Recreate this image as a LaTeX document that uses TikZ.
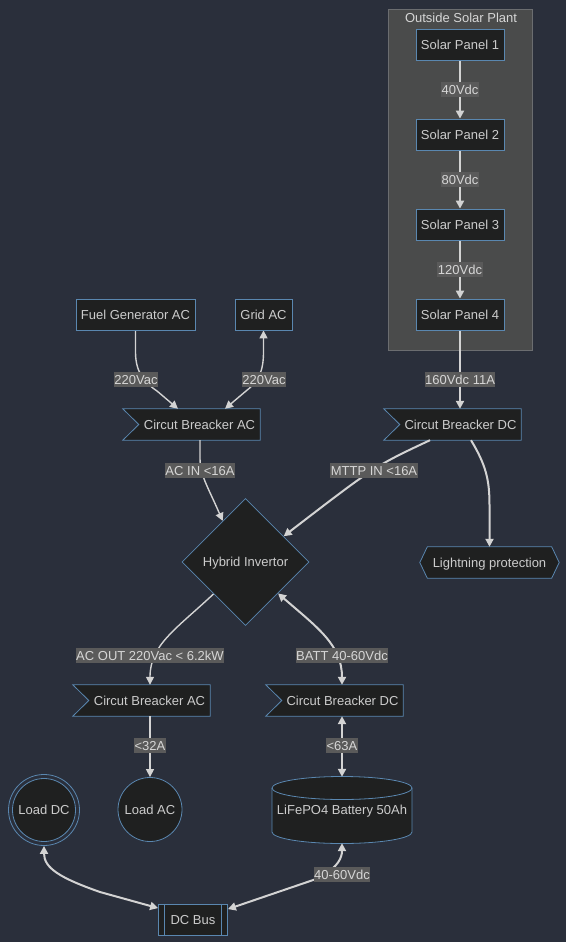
\documentclass[tikz,border=0pt]{standalone}
\usepackage{fontspec}
\setmainfont{Liberation Sans}
\usetikzlibrary{shapes.geometric,arrows.meta,calc}
\pgfdeclarelayer{back}
\pgfdeclarelayer{shapes}
\pgfdeclarelayer{edges}
\pgfsetlayers{back,shapes,edges,main}
\definecolor{bg}{HTML}{2A2F3B}
\definecolor{nfill}{HTML}{1F2020}
\definecolor{nstroke}{HTML}{5A87B0}
\definecolor{ntext}{HTML}{CCCCCC}
\definecolor{clus}{HTML}{4A4B4B}
\definecolor{clusline}{HTML}{6B6D70}
\definecolor{lblbg}{HTML}{5A5A5A}
\definecolor{lbltext}{HTML}{D6D6D6}
\definecolor{edgec}{HTML}{D3D3D3}
\tikzset{
  >={Triangle[length=8pt,width=8pt]},
  box/.style={draw=nstroke, fill=nfill, text=ntext, line width=0.8pt, minimum height=31pt, inner sep=0pt, text height=10pt, text depth=0.7pt},
  txt/.style={text=ntext, inner sep=0pt, minimum height=31pt, text height=10pt, text depth=0.7pt},
  shp/.style={draw=nstroke, fill=nfill, line width=0.8pt},
  lbl/.style={fill=lblbg, text=lbltext, inner xsep=0.5pt, inner ysep=1.2pt, text height=11pt, text depth=1.7pt},
  thk/.style={draw=edgec, line width=2pt},
  thn/.style={draw=edgec, line width=1.4pt},
}
\begin{document}
\begin{tikzpicture}[x=1pt,y=-1pt,font=\fontsize{13}{15}\selectfont]
\useasboundingbox (0,0) rectangle (566,942);
\begin{pgfonlayer}{back}
  \fill[bg] (0,0) rectangle (566,942);
  \filldraw[fill=clus, draw=clusline, line width=0.8pt] (388,9) rectangle (532,350);
\end{pgfonlayer}
\node[text=lbltext, inner sep=0pt, text height=10pt, text depth=0.7pt] (clustitle) at (461,18) {Outside Solar Plant};

% nodes
\node[box, minimum width=88pt] (sp1) at (460,44.5) {Solar Panel 1};
\node[box, minimum width=88pt] (sp2) at (460,134.5) {Solar Panel 2};
\node[box, minimum width=88pt] (sp3) at (460,224.5) {Solar Panel 3};
\node[box, minimum width=88pt] (sp4) at (460,314.5) {Solar Panel 4};
\node[box, minimum width=119pt] (fuel) at (135.5,314.5) {Fuel Generator AC};
\node[box, minimum width=57pt] (grid) at (263.5,314.5) {Grid AC};
\node[txt, minimum width=137pt] (cbac) at (191.5,424.5) {\hspace*{16pt}Circut Breacker AC};
\node[txt, minimum width=137pt] (cbdc) at (452.5,424.5) {\hspace*{16pt}Circut Breacker DC};
\node[box, diamond, minimum width=127pt, minimum height=127pt] (hyb) at (245.5,562) {Hybrid Invertor};
\node[txt, minimum width=139pt] (light) at (489.5,562.5) {Lightning protection};
\node[txt, minimum width=137pt] (cbacb) at (141.5,700.5) {\hspace*{16pt}Circut Breacker AC};
\node[txt, minimum width=137pt] (cbdcb) at (334.5,700.5) {\hspace*{16pt}Circut Breacker DC};
\node[circle, draw=nstroke, line width=0.8pt, text=ntext, minimum size=71pt, inner sep=0pt, text height=10pt, text depth=0.7pt] (loaddc) at (44,810) {Load DC};
\node[box, circle, minimum size=64pt] (loadac) at (150,809.5) {Load AC};
\node[txt, minimum width=140pt, minimum height=66pt] (batt) at (342,810) {LiFePO4 Battery 50Ah};
\node[box, minimum width=69pt] (dcbus) at (193,920) {DC Bus};
\draw[nstroke, line width=0.8pt] ($(dcbus.north west)+(6.5,0)$) -- ($(dcbus.south west)+(6.5,0)$);
\draw[nstroke, line width=0.8pt] ($(dcbus.north east)+(-6.5,0)$) -- ($(dcbus.south east)+(-6.5,0)$);

% custom shapes
\begin{pgfonlayer}{shapes}
  \foreach \n in {cbac,cbdc,cbacb,cbdcb}{
    \filldraw[shp] (\n.north west) -- (\n.north east) -- (\n.south east) -- (\n.south west) -- ($(\n.west)+(16,0)$) -- cycle;
  }
  \filldraw[shp] (light.west) -- ($(light.north west)+(7.5,0)$) -- ($(light.north east)+(-7.5,0)$) -- (light.east) -- ($(light.south east)+(-7.5,0)$) -- ($(light.south west)+(7.5,0)$) -- cycle;
  \filldraw[shp] (loaddc.center) circle (31.5pt);
  \filldraw[shp] (272,788) -- (272,832) arc[start angle=180,end angle=360,x radius=70pt,y radius=11.5pt] -- (412,788) arc[start angle=0,end angle=180,x radius=70pt,y radius=11.5pt] -- cycle;
  \draw[shp, fill=none] (272,788) arc[start angle=180,end angle=360,x radius=70pt,y radius=11.5pt];
\end{pgfonlayer}

% edges
\begin{pgfonlayer}{edges}
  \draw[thk,->] (sp1) -- (sp2);
  \draw[thk,->] (sp2) -- (sp3);
  \draw[thk,->] (sp3) -- (sp4);
  \draw[thk,->] (sp4.south) -- (sp4.south |- cbdc.north);
  \draw[thn,->] (fuel.south) -- (135.5,352) .. controls (135.5,372) and (144,382) .. (157,391) -- ($(cbac.north)+(-13.5,0)$);
  \draw[thn,<->] ($(cbac.north)+(33.5,0)$) -- (246,391) .. controls (258,382) and (263.5,372) .. (263.5,352) -- (grid.south);
  \draw[thn,->] ($(cbac.south)+(8.5,0)$) -- (200,458) .. controls (200,475) and (207,485) .. (hyb.119);
  \draw[thk,->] ($(cbdc.south)+(-22.5,0)$) .. controls (375,466) .. (hyb.34);
  \draw[thk,->] ($(cbdc.south)+(18.5,0)$) .. controls (486,465) and (489.5,480) .. (489.5,505) -- (light.north);
  \draw[thn,->] (hyb.225) .. controls (175,630) and (150,645) .. ($(cbacb.north)+(8.5,0)$);
  \draw[thk,<->] (hyb.-44) .. controls (318,628) and (342,645) .. ($(cbdcb.north)+(7.5,0)$);
  \draw[thn,->] ($(cbacb.south)+(8.5,0)$) -- (loadac.north);
  \draw[thk,<->] ($(cbdcb.south)+(7.5,0)$) -- (batt.north);
  \draw[thk,<->] (batt.south) .. controls (342,858) and (338,866) .. (322,877) -- ($(dcbus.north east)+(0,5)$);
  \draw[thk,<->] (loaddc.south) .. controls (44,868) and (60,878) .. (100,892) -- ($(dcbus.north west)+(0,4)$);
\end{pgfonlayer}

% edge labels
\node[lbl] (l1) at (460,89.5) {40Vdc};
\node[lbl] (l2) at (460,179.5) {80Vdc};
\node[lbl] (l3) at (460,269.5) {120Vdc};
\node[lbl] (l4) at (460,379.5) {160Vdc 11A};
\node[lbl] (l5) at (136,379.5) {220Vac};
\node[lbl] (l6) at (264,379.5) {220Vac};
\node[lbl] (l7) at (200,470.5) {AC IN <16A};
\node[lbl] (l8) at (374,470.5) {MTTP IN <16A};
\node[lbl] (l9) at (150,655.5) {AC OUT 220Vac < 6.2kW};
\node[lbl] (l10) at (342,655.5) {BATT 40-60Vdc};
\node[lbl] (l11) at (150,745.5) {<32A};
\node[lbl] (l12) at (342,745.5) {<63A};
\node[lbl] (l13) at (342,874.5) {40-60Vdc};
\end{tikzpicture}
\end{document}
